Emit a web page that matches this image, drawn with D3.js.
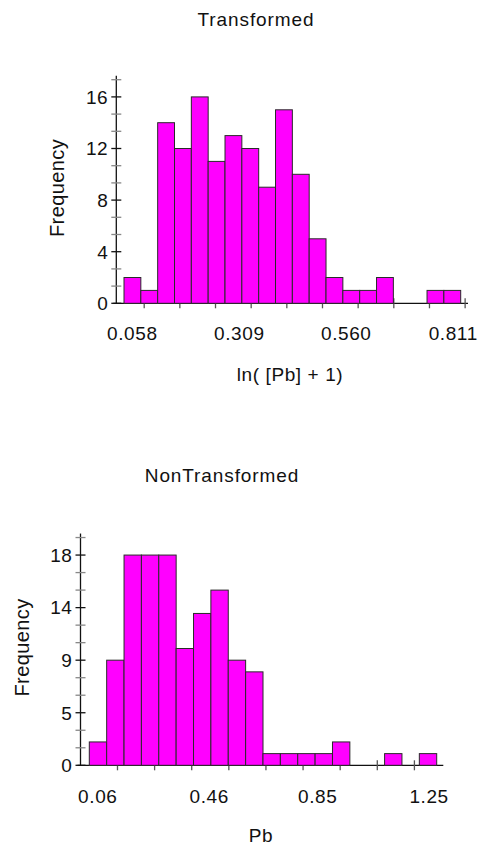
<!DOCTYPE html>
<html>
<head>
<meta charset="utf-8">
<script src="https://cdn.jsdelivr.net/npm/d3@7"></script>
<style>
  html, body { margin: 0; padding: 0; background: #fff; }
  svg { display: block; }
  text { font-family: "Liberation Sans", Arial, sans-serif; fill: #111; }
</style>
</head>
<body>
<svg id="chart" width="480" height="847"></svg>
<script>
// ---------------- data ----------------
// Transformed histogram: ln([Pb] + 1)
const topTitle = "Transformed";
const topXTitle = "ln( [Pb] + 1)";
const topBinStart = 0.0385;
const topBinWidth = 0.0395;
const topCounts = [2, 1, 14, 12, 16, 11, 13, 12, 9, 15, 10, 5, 2, 1, 1, 2, 0, 0, 1, 1];
const topXLabelValues = [0.058, 0.309, 0.560, 0.811];
const topXLabels = ["0.058", "0.309", "0.560", "0.811"];
const topYLabelValues = [0, 4, 8, 12, 16];
const topYLabels = ["0", "4", "8", "12", "16"];

// NonTransformed histogram: Pb
const botTitle = "NonTransformed";
const botXTitle = "Pb";
const botBinStart = 0.0294;
const botBinWidth = 0.0624;
const botCounts = [2, 9, 18, 18, 18, 10, 13, 15, 9, 8, 1, 1, 1, 1, 2, 0, 0, 1, 0, 1];
const botXLabelValues = [0.06, 0.46, 0.85, 1.25];
const botXLabels = ["0.06", "0.46", "0.85", "1.25"];
const botYLabelValues = [0, 4.5, 9, 13.5, 18];
const botYLabels = ["0", "5", "9", "14", "18"];

const yLabel = "Frequency";

// ---------------- drawing ----------------
const svg = d3.select("#chart");

function drawHist(cfg) {
  const g = svg.append("g");
  const nb = cfg.counts.length;
  const binEnd = cfg.binStart + nb * cfg.binWidth;
  const x = d3.scaleLinear().domain([cfg.binStart, binEnd]).range([cfg.barLeft, cfg.barRight]);
  const y = d3.scaleLinear().domain([0, 1]).range([cfg.y0, cfg.y0 - cfg.pxPerUnit]);

  const majorStep = cfg.yLabelValues[1] - cfg.yLabelValues[0];
  const minorStep = majorStep / 3;
  const yTop = cfg.yLabelValues[cfg.yLabelValues.length - 1] + minorStep;

  // x-axis ticks (spaced at a third of label spacing)
  const xLabStep = (cfg.xLabelValues[1] - cfg.xLabelValues[0]) / 3;
  const xTicks = d3.range(cfg.nXTicks).map(k => cfg.xLabelValues[0] + (k + cfg.xTickOffset) * xLabStep);

  // axis lines
  g.append("line")
    .attr("x1", cfg.axisX).attr("x2", cfg.axisX)
    .attr("y1", y(yTop) - 4).attr("y2", y(0))
    .attr("stroke", "#111").attr("stroke-width", 1.3);
  g.append("line")
    .attr("x1", cfg.axisX - 3).attr("x2", cfg.xAxisEnd)
    .attr("y1", y(0)).attr("y2", y(0))
    .attr("stroke", "#111").attr("stroke-width", 1.3);

  // x ticks
  g.selectAll(".xt").data(xTicks).enter().append("line")
    .attr("x1", d => x(d)).attr("x2", d => x(d))
    .attr("y1", y(0) - 5).attr("y2", y(0) + 5)
    .attr("stroke", "#555").attr("stroke-width", 1.3);

  // y ticks (minor grey, major black)
  const yTicks = d3.range(0, Math.round(yTop / minorStep) + 1).map(i => ({ v: i * minorStep, major: i % 3 === 0 }));
  g.selectAll(".yt").data(yTicks).enter().append("line")
    .attr("x1", cfg.axisX - 5).attr("x2", cfg.axisX + 5)
    .attr("y1", d => y(d.v)).attr("y2", d => y(d.v))
    .attr("stroke", d => d.major ? "#111" : "#888").attr("stroke-width", 1.3);

  // bars
  g.selectAll(".bar").data(cfg.counts.map((c, i) => ({ c, i }))).enter()
    .filter(d => d.c > 0)
    .append("rect")
    .attr("x", d => x(cfg.binStart + d.i * cfg.binWidth))
    .attr("width", d => x(cfg.binStart + (d.i + 1) * cfg.binWidth) - x(cfg.binStart + d.i * cfg.binWidth))
    .attr("y", d => y(d.c))
    .attr("height", d => y(0) - y(d.c))
    .attr("fill", "#ff00ff")
    .attr("stroke", "#2a2a2a").attr("stroke-width", 1);

  // x labels
  g.selectAll(".xl").data(cfg.xLabelValues).enter().append("text")
    .attr("x", d => x(d)).attr("y", cfg.xLabelBaseline)
    .attr("text-anchor", "middle")
    .style("font-size", "19px").style("letter-spacing", "0.6px")
    .text((d, i) => cfg.xLabels[i]);

  // y labels
  g.selectAll(".yl").data(cfg.yLabelValues).enter().append("text")
    .attr("x", cfg.axisX - 8).attr("y", d => y(d))
    .attr("dy", "0.36em")
    .attr("text-anchor", "end")
    .style("font-size", "19px").style("letter-spacing", "0.6px")
    .text((d, i) => cfg.yLabels[i]);

  // titles
  g.append("text")
    .attr("x", cfg.titleX).attr("y", cfg.titleY)
    .attr("text-anchor", "middle")
    .style("font-size", "19px").style("letter-spacing", "0.9px")
    .text(cfg.title);
  g.append("text")
    .attr("x", cfg.xTitleX).attr("y", cfg.xTitleY)
    .attr("text-anchor", "middle")
    .style("font-size", "19px").style("letter-spacing", "0.6px")
    .text(cfg.xTitle);
  g.append("text")
    .attr("transform", `translate(${cfg.yTitleX},${cfg.yTitleY}) rotate(-90)`)
    .attr("text-anchor", "middle")
    .style("font-size", "20px").style("letter-spacing", "0.4px")
    .text(yLabel);
}

drawHist({
  title: topTitle, xTitle: topXTitle,
  counts: topCounts, binStart: topBinStart, binWidth: topBinWidth,
  xLabelValues: topXLabelValues, xLabels: topXLabels,
  yLabelValues: topYLabelValues, yLabels: topYLabels,
  barLeft: 124, barRight: 460.7, y0: 303.3, pxPerUnit: 12.9,
  axisX: 116.3, xAxisEnd: 468,
  nXTicks: 10, xTickOffset: 1 / 3,
  xLabelBaseline: 340,
  titleX: 256, titleY: 26,
  xTitleX: 290, xTitleY: 381,
  yTitleX: 64, yTitleY: 188
});

drawHist({
  title: botTitle, xTitle: botXTitle,
  counts: botCounts, binStart: botBinStart, binWidth: botBinWidth,
  xLabelValues: botXLabelValues, xLabels: botXLabels,
  yLabelValues: botYLabelValues, yLabels: botYLabels,
  barLeft: 89.3, barRight: 436.7, y0: 765.3, pxPerUnit: 11.68,
  axisX: 80.5, xAxisEnd: 443.3,
  nXTicks: 9, xTickOffset: 0.53,
  xLabelBaseline: 803,
  titleX: 222, titleY: 482,
  xTitleX: 261, xTitleY: 842,
  yTitleX: 29, yTitleY: 647.5
});
</script>
</body>
</html>
